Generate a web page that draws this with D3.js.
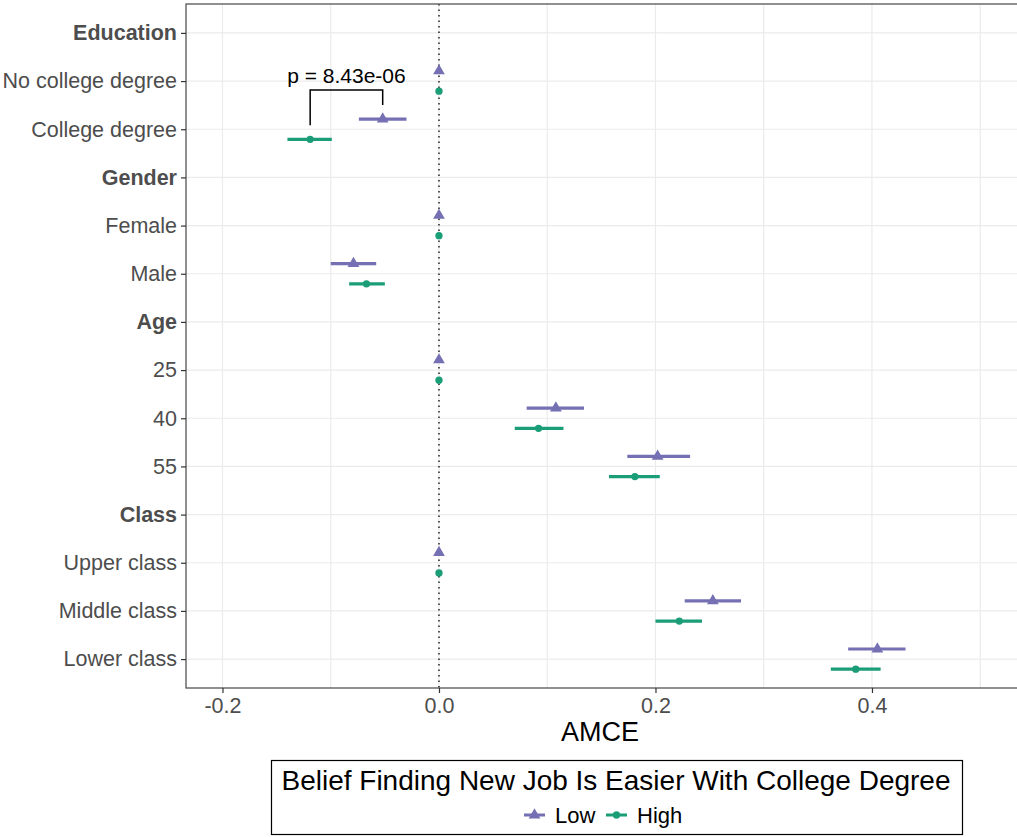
<!DOCTYPE html>
<html>
<head>
<meta charset="utf-8">
<script src="https://cdn.jsdelivr.net/npm/d3@7"></script>
<style>
  body { margin: 0; background: #fff; }
  svg { display: block; font-family: "Liberation Sans", Arial, sans-serif; }
</style>
</head>
<body>
<svg id="chart" width="1017" height="837"></svg>
<script>
// Row labels, top to bottom; headers are bold group titles
const rows = ["Education", "No college degree", "College degree",
              "Gender", "Female", "Male",
              "Age", "25", "40", "55",
              "Class", "Upper class", "Middle class", "Lower class"];
const headers = ["Education", "Gender", "Age", "Class"];

// Attribute levels with estimates (reference levels sit at 0 without intervals)
const levels = ["No college degree", "College degree", "Female", "Male",
                "25", "40", "55", "Upper class", "Middle class", "Lower class"];
const isReference = [true, false, true, false, true, false, false, true, false, false];

const lowEst   = [0, -0.052, 0, -0.079, 0, 0.108, 0.202, 0, 0.253, 0.405];
const lowLo    = [0, -0.074, 0, -0.100, 0, 0.081, 0.174, 0, 0.227, 0.378];
const lowHi    = [0, -0.030, 0, -0.058, 0, 0.134, 0.232, 0, 0.279, 0.431];

const highEst  = [0, -0.119, 0, -0.067, 0, 0.092, 0.181, 0, 0.222, 0.385];
const highLo   = [0, -0.140, 0, -0.083, 0, 0.070, 0.157, 0, 0.200, 0.362];
const highHi   = [0, -0.099, 0, -0.050, 0, 0.115, 0.204, 0, 0.243, 0.408];

const groups = ["Low", "High"];
const groupColors = ["#7570b3", "#1b9e77"];

const xTicks = [-0.2, 0.0, 0.2, 0.4];
const xMinor = [-0.1, 0.1, 0.3, 0.5];

const pLabel = "p = 8.43e-06";
const pRow = "College degree";

const svg = d3.select("#chart");
const panel = { left: 186, right: 1018, top: 4, bottom: 688 };

const x = d3.scaleLinear().domain([-0.2337, 0.5349]).range([panel.left, panel.right]);
const y = d3.scalePoint().domain(rows).range([panel.top, panel.bottom]).padding(0.6);
const dodge = y.step() * 0.21;
const groupOffset = [-dodge, dodge];

// Grid
const grid = svg.append("g");
grid.selectAll("line.v").data(xTicks.concat(xMinor)).join("line")
  .attr("x1", d => x(d)).attr("x2", d => x(d))
  .attr("y1", panel.top).attr("y2", panel.bottom)
  .attr("stroke", "#ebebeb").attr("stroke-width", 1.2);
grid.selectAll("line.h").data(rows).join("line")
  .attr("x1", panel.left).attr("x2", panel.right)
  .attr("y1", d => y(d)).attr("y2", d => y(d))
  .attr("stroke", "#ebebeb").attr("stroke-width", 1.2);

// Zero reference line
svg.append("line")
  .attr("x1", x(0)).attr("x2", x(0))
  .attr("y1", panel.top).attr("y2", panel.bottom)
  .attr("stroke", "#000").attr("stroke-width", 1.3)
  .attr("stroke-dasharray", "1.5,4");

// Panel border
svg.append("rect")
  .attr("x", panel.left).attr("y", panel.top)
  .attr("width", panel.right - panel.left).attr("height", panel.bottom - panel.top)
  .attr("fill", "none").attr("stroke", "#555").attr("stroke-width", 1.3);

// Axes
const yAxis = svg.append("g").attr("transform", `translate(${panel.left},0)`)
  .call(d3.axisLeft(y).tickSize(5).tickPadding(4));
yAxis.select(".domain").remove();
yAxis.selectAll(".tick line").attr("stroke", "#333").attr("stroke-width", 1.2);
yAxis.selectAll(".tick text")
  .attr("fill", "#4d4d4d").style("font-size", "21.5px")
  .style("font-weight", d => headers.includes(d) ? "bold" : "normal");

const fmt = d3.format(".1f");
const xAxis = svg.append("g").attr("transform", `translate(0,${panel.bottom})`)
  .call(d3.axisBottom(x).tickValues(xTicks).tickFormat(d => fmt(d).replace("\u2212", "-"))
    .tickSize(5).tickPadding(5));
xAxis.select(".domain").remove();
xAxis.selectAll(".tick line").attr("stroke", "#333").attr("stroke-width", 1.2);
xAxis.selectAll(".tick text").attr("fill", "#4d4d4d").style("font-size", "21.5px");

svg.append("text")
  .attr("x", (panel.left + panel.right) / 2 - 2).attr("y", 741)
  .attr("text-anchor", "middle").style("font-size", "27px").attr("fill", "#000")
  .text("AMCE");

// Estimates and intervals
const tri = d3.symbol().type(d3.symbolTriangle).size(60);
const circ = d3.symbol().type(d3.symbolCircle).size(42);

groups.forEach((g, gi) => {
  const est = gi === 0 ? lowEst : highEst;
  const lo = gi === 0 ? lowLo : highLo;
  const hi = gi === 0 ? lowHi : highHi;
  const layer = svg.append("g");
  levels.forEach((lv, i) => {
    const yy = y(lv) + groupOffset[gi];
    if (!isReference[i]) {
      layer.append("line")
        .attr("x1", x(lo[i])).attr("x2", x(hi[i]))
        .attr("y1", yy).attr("y2", yy)
        .attr("stroke", groupColors[gi]).attr("stroke-width", 3.2);
    }
    layer.append("path")
      .attr("d", gi === 0 ? tri() : circ())
      .attr("transform", `translate(${x(est[i])},${yy})`)
      .attr("fill", groupColors[gi]);
  });
});

// Significance bracket between groups
const pi = levels.indexOf(pRow);
const xa = x(highEst[pi]), xb = x(lowEst[pi]);
const ya = y(pRow) + groupOffset[1] - 14, yb = y(pRow) + groupOffset[0] - 14;
const yTop = y(rows[1]) + 9;
svg.append("path")
  .attr("d", `M${xa},${ya}V${yTop}H${xb}V${yb}`)
  .attr("fill", "none").attr("stroke", "#000").attr("stroke-width", 1.5);
svg.append("text")
  .attr("x", (xa + xb) / 2).attr("y", yTop - 7)
  .attr("text-anchor", "middle").style("font-size", "21px").attr("fill", "#000")
  .text(pLabel);

// Legend
const lg = svg.append("g");
lg.append("rect").attr("x", 271.5).attr("y", 760.5).attr("width", 691).attr("height", 74)
  .attr("fill", "#fff").attr("stroke", "#000").attr("stroke-width", 1.2);
lg.append("text").attr("x", 616).attr("y", 790).attr("text-anchor", "middle")
  .style("font-size", "27.5px").attr("fill", "#000")
  .attr("textLength", 669).attr("lengthAdjust", "spacingAndGlyphs")
  .text("Belief Finding New Job Is Easier With College Degree");
const keyX = [524, 606];
groups.forEach((g, gi) => {
  const k = lg.append("g").attr("transform", `translate(${keyX[gi]},815)`);
  k.append("line").attr("x1", 0).attr("x2", 21).attr("stroke", groupColors[gi]).attr("stroke-width", 3);
  k.append("path").attr("d", gi === 0 ? tri() : circ())
    .attr("transform", "translate(10.5,0)").attr("fill", groupColors[gi]);
  k.append("text").attr("x", 31).attr("y", 8).style("font-size", "22px").attr("fill", "#000").text(g);
});
</script>
</body>
</html>
